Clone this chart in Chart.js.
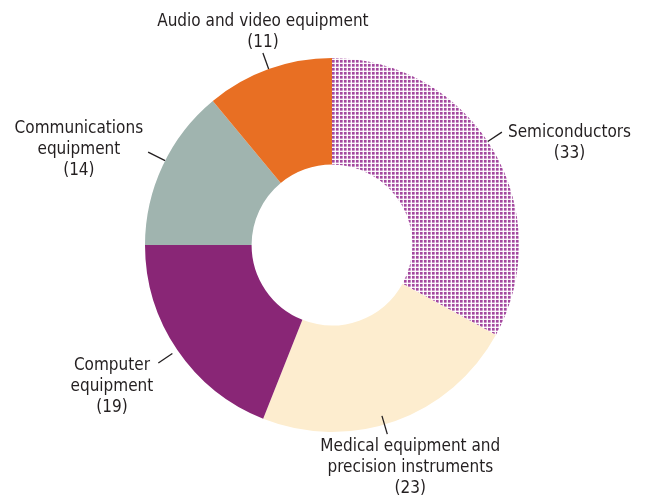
<!DOCTYPE html>
<html>
<head>
<meta charset="utf-8">
<script src="https://cdn.jsdelivr.net/npm/chart.js@4.4.1/dist/chart.umd.min.js"></script>
<style>
  html, body { margin: 0; padding: 0; background: #fff; }
  #wrap { width: 646px; height: 496px; }
</style>
</head>
<body>
<div id="wrap"><canvas id="chart" width="646" height="496"></canvas></div>
<script>
// data
const categories = [
    ['Semiconductors'],
    ['Medical equipment and', 'precision instruments'],
    ['Computer', 'equipment'],
    ['Communications', 'equipment'],
    ['Audio and video equipment']
];
const values = [33, 23, 19, 14, 11];

// look
const FONT = "'DejaVu Sans Condensed', 'Liberation Sans Narrow', 'Arial Narrow', sans-serif";

function hatch() {
    // small checked grid: purple squares, light lines
    const c = document.createElement('canvas');
    c.width = 4; c.height = 4;
    const g = c.getContext('2d');
    g.fillStyle = '#a3489f';
    g.fillRect(0, 0, 4, 4);
    g.fillStyle = 'rgba(255,255,255,0.35)';
    g.fillRect(0, 2, 4, 1);
    g.fillRect(2, 0, 1, 4);
    g.fillStyle = 'rgba(255,255,255,0.95)';
    g.fillRect(0, 3, 4, 1);
    g.fillRect(3, 0, 1, 4);
    return g.createPattern(c, 'repeat');
}

const sliceColors = [hatch(), '#fdedcf', '#892676', '#a0b4af', '#e86f23'];

// per label: angle shift (deg), leader start/end offsets from outer radius, text anchor
const labelStyle = [
    { rot: -3,  a: 0,  b: 17, align: 'left',   dx: 6,   dy: 0 },
    { rot: 3.5, a: 9,  b: 10, align: 'center', dx: 23,  dy: 12 },
    { rot: 0,   a: -6, b: 23, align: 'right',  dx: -5,  dy: 3 },
    { rot: 1.6, a: 0,  b: 19, align: 'right',  dx: -5,  dy: -24 },
    { rot: 0,   a: 0,  b: 17, align: 'center', dx: 0,   dy: -31 }
];

const leaderLabels = {
    id: 'leaderLabels',
    afterDatasetsDraw(chart) {
        const ctx = chart.ctx;
        const arcs = chart.getDatasetMeta(0).data;
        ctx.save();
        ctx.font = '17px ' + FONT;
        ctx.fillStyle = '#231f20';
        ctx.strokeStyle = '#231f20';
        ctx.lineWidth = 1.3;
        ctx.textBaseline = 'middle';
        arcs.forEach((arc, i) => {
            const s = labelStyle[i];
            const mid = (arc.startAngle + arc.endAngle) / 2 + s.rot * Math.PI / 180;
            const cos = Math.cos(mid), sin = Math.sin(mid);
            const r0 = arc.outerRadius - s.a, r1 = arc.outerRadius + s.b;
            const x0 = arc.x + cos * r0, y0 = arc.y + sin * r0;
            const x1 = arc.x + cos * r1, y1 = arc.y + sin * r1;
            ctx.beginPath();
            ctx.moveTo(x0, y0);
            ctx.lineTo(x1, y1);
            ctx.stroke();

            const lines = categories[i].concat(['(' + values[i] + ')']);
            const lh = 21;
            const bx = x1 + s.dx;
            const by = y1 + s.dy;
            const wMax = Math.max(...lines.map(t => ctx.measureText(t).width));
            let cx = bx;
            if (s.align === 'left') cx = bx + wMax / 2;
            else if (s.align === 'right') cx = bx - wMax / 2;
            ctx.textAlign = 'center';
            lines.forEach((t, k) => ctx.fillText(t, cx, by + k * lh));
        });
        ctx.restore();
    }
};

new Chart(document.getElementById('chart'), {
    type: 'doughnut',
    data: {
        labels: categories.map(c => c.join(' ')),
        datasets: [{
            data: values,
            backgroundColor: sliceColors,
            borderWidth: 0,
            hoverOffset: 0
        }]
    },
    options: {
        responsive: false,
        animation: false,
        cutout: '43%',
        layout: { padding: { top: 58, bottom: 64, left: 18, right: 0 } },
        plugins: {
            legend: { display: false },
            tooltip: { enabled: false }
        }
    },
    plugins: [leaderLabels]
});
</script>
</body>
</html>
